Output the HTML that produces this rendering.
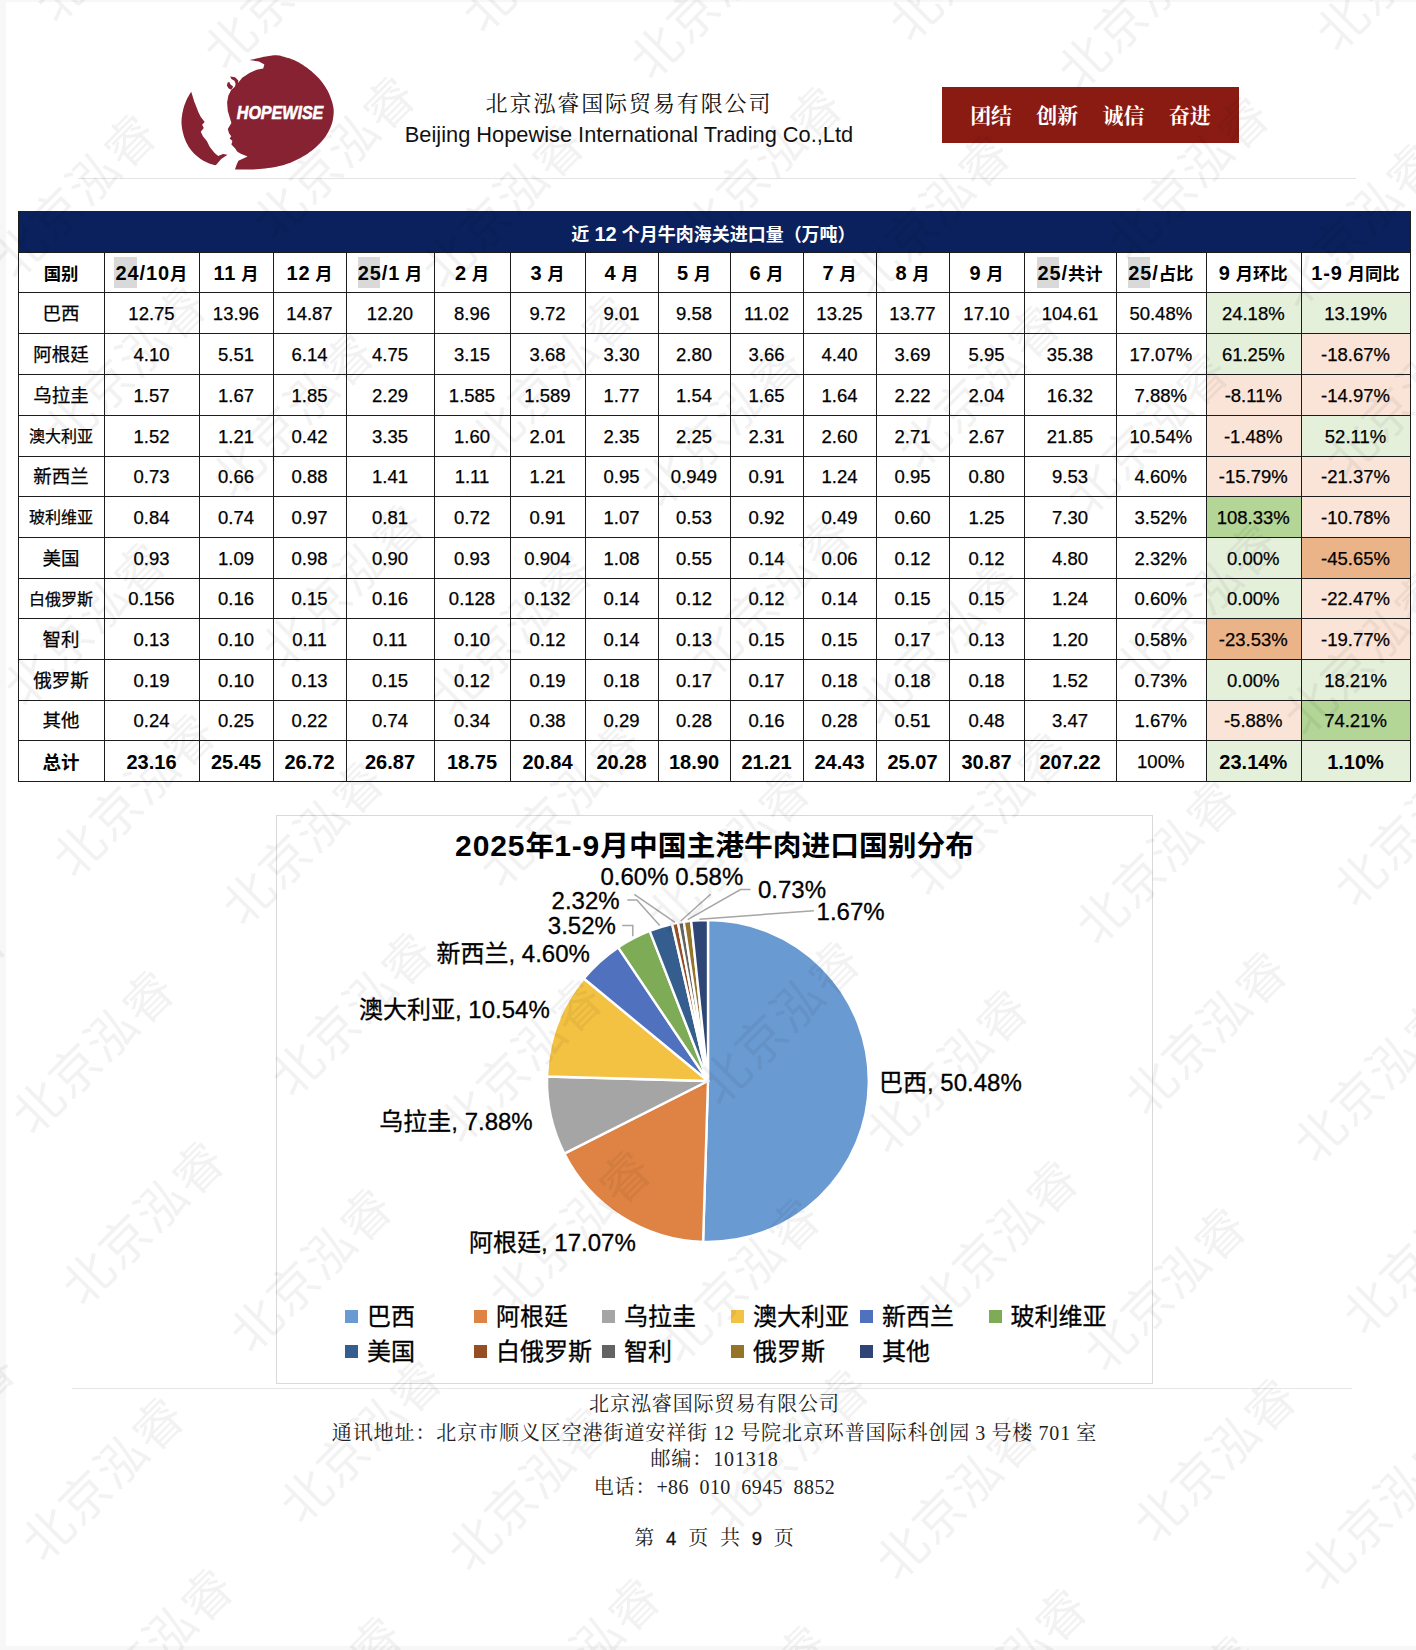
<!DOCTYPE html>
<html lang="zh-CN"><head><meta charset="utf-8"><title>北京泓睿国际贸易有限公司</title>
<style>
*{box-sizing:border-box;margin:0;padding:0}
html,body{width:1416px;height:1650px;overflow:hidden;background:#fff}
body{position:relative;font-family:"Liberation Sans","Noto Sans CJK SC",sans-serif;color:#000}
.abs{position:absolute}
.edge{position:absolute;background:#f7f7f7}
.cn{font-family:"Liberation Serif","Noto Serif CJK SC",serif}
.hl{position:absolute;height:1px;background:#e4e4e4}
#tbl{position:absolute;left:0;top:0;width:1416px;height:800px}
.c{-webkit-text-stroke:.25px #000;position:absolute;display:flex;align-items:center;justify-content:center;font-size:18.5px;white-space:nowrap;line-height:1}
.c.b{font-weight:bold;-webkit-text-stroke:0}
.c.b .n{font-size:20px}
.c.h{font-size:17.33px}
.c.h .n{letter-spacing:.9px}
#ctitle .n{font-size:30px;letter-spacing:.9px}
.c.s{font-size:16px}
.vl,.hz{position:absolute;background:#1c1c1c}
.lg{position:absolute;font-size:24px;line-height:1;white-space:nowrap;color:#000;-webkit-text-stroke:.3px #000}
.lg i{position:absolute;left:-21.6px;top:4.7px;width:13px;height:13px;display:block}
.pl{position:absolute;font-size:24px;line-height:1;white-space:nowrap;color:#000;-webkit-text-stroke:.3px #000}
.ft{position:absolute;left:6.5px;width:1416px;text-align:center;font-size:20px;line-height:1;letter-spacing:.9px;color:#222;white-space:nowrap}
.pn{font-family:"Liberation Sans",sans-serif;font-size:18.5px;color:#111;-webkit-text-stroke:.35px #111}
</style></head>
<body>
<div class="edge" style="left:0;top:0;width:6px;height:1650px"></div><div class="edge" style="left:0;top:0;width:1416px;height:2px"></div><div class="edge" style="left:0;top:1646px;width:1416px;height:4px"></div>
<svg class="abs" style="left:0;top:0" width="420" height="200" viewBox="0 0 420 200"><path d="M259.0 58.0 L259.9 57.8 L261.2 57.5 L262.6 57.1 L264.2 56.8 L265.9 56.4 L267.4 56.2 L269.0 55.9 L270.6 55.7 L272.2 55.4 L273.9 55.3 L275.5 55.2 L277.0 55.2 L278.5 55.4 L279.9 55.6 L281.2 56.0 L282.6 56.4 L284.0 56.8 L285.4 57.2 L286.9 57.7 L288.5 58.1 L290.0 58.6 L291.6 59.2 L293.3 59.8 L295.0 60.6 L296.9 61.5 L298.9 62.6 L300.9 63.7 L303.0 65.0 L305.0 66.4 L307.1 67.8 L309.1 69.4 L311.2 71.1 L313.3 72.9 L315.3 74.8 L317.3 76.7 L319.1 78.6 L320.7 80.5 L322.3 82.5 L323.7 84.5 L325.1 86.6 L326.3 88.6 L327.5 90.6 L328.5 92.6 L329.5 94.7 L330.3 96.8 L331.0 98.8 L331.7 100.8 L332.3 102.6 L332.7 104.3 L333.1 105.9 L333.4 107.4 L333.6 108.9 L333.7 110.5 L333.7 112.2 L333.6 114.1 L333.4 116.1 L333.1 118.1 L332.8 120.1 L332.3 122.2 L331.7 124.2 L330.9 126.2 L330.1 128.3 L329.1 130.3 L328.1 132.3 L326.9 134.3 L325.7 136.2 L324.3 138.1 L322.9 140.0 L321.3 141.8 L319.7 143.6 L317.9 145.3 L316.1 147.0 L314.1 148.7 L312.0 150.4 L309.8 152.1 L307.6 153.7 L305.2 155.2 L302.9 156.6 L300.4 158.0 L297.8 159.3 L295.2 160.6 L292.6 161.8 L289.9 162.9 L287.2 163.8 L284.6 164.7 L282.0 165.5 L279.3 166.1 L276.6 166.7 L273.9 167.2 L271.0 167.7 L268.1 168.1 L265.2 168.5 L262.1 168.8 L259.1 169.1 L256.1 169.3 L253.0 169.5 L249.8 169.6 L246.4 169.6 L242.9 169.6 L239.7 169.6 L237.0 169.5 L235.0 169.5 L236.5 165.0 L238.4 160.8 L247.6 156.4 L240.8 153.8 L237.4 151.8 L235.0 148.2 L231.4 144.6 L232.4 141.0 L229.7 138.6 L231.2 136.2 L229.0 133.2 L227.8 129.0 L229.3 126.4 L231.4 123.0 L229.6 117.0 L227.8 111.0 L227.1 102.6 L228.4 95.4 L231.2 90.0 L235.0 86.4 L238.6 82.2 L242.2 77.7 L249.4 72.9 L256.6 69.8 L263.2 68.4 L264.4 64.6 L259.0 61.6 L249.4 60.0 Z" fill="#862231"/><path d="M191.2 91.8 L190.7 92.6 L190.1 93.6 L189.3 94.8 L188.5 96.2 L187.7 97.6 L187.0 99.0 L186.3 100.5 L185.7 102.0 L185.1 103.6 L184.4 105.2 L183.9 106.9 L183.4 108.6 L183.0 110.4 L182.6 112.2 L182.2 114.0 L182.0 115.9 L181.7 117.7 L181.6 119.4 L181.5 121.1 L181.5 122.7 L181.6 124.2 L181.7 125.8 L181.9 127.4 L182.2 129.0 L182.5 130.8 L182.9 132.6 L183.4 134.4 L183.9 136.3 L184.5 138.1 L185.2 139.8 L185.9 141.5 L186.7 143.2 L187.6 144.8 L188.5 146.4 L189.5 147.9 L190.6 149.4 L191.8 150.9 L193.1 152.4 L194.5 153.9 L196.0 155.3 L197.5 156.6 L199.0 157.8 L200.6 159.0 L202.2 160.0 L203.9 160.9 L205.5 161.8 L207.1 162.6 L208.6 163.2 L210.0 163.8 L211.5 164.3 L212.8 164.6 L214.0 164.9 L215.1 165.1 L215.8 165.3 L221.2 159.0 L227.5 154.8 L223.0 154.0 L218.2 156.0 L214.6 153.0 L209.8 147.0 L206.8 141.0 L202.9 136.2 L200.8 131.7 L203.8 128.1 L202.1 124.8 L204.7 122.1 L200.8 117.0 L198.4 112.2 L196.6 107.4 L194.2 101.4 L192.4 95.4 Z" fill="#862231"/><path d="M230.2 76.5 L235.0 77.2 L238.4 80.4 L237.7 85.2 L235.0 87.0 L235.6 83.4 L234.4 80.7 L231.4 78.9 Z" fill="#862231"/><path d="M227.6 82.5 L229.3 82.0 L230.5 84.4 L233.2 86.4 L231.2 89.7 L228.7 88.5 L226.9 85.8 Z" fill="#862231"/><text x="236.8" y="118.8" font-family="'Liberation Sans',sans-serif" font-weight="bold" font-style="italic" font-size="18.4" fill="#fff" stroke="#fff" stroke-width="0.6" textLength="86.5" lengthAdjust="spacingAndGlyphs">HOPEWISE</text></svg>
<div class="abs cn" id="cname" style="left:380px;width:498px;top:93px;text-align:center;font-size:22px;line-height:1;letter-spacing:1.9px;color:#111;white-space:nowrap">北京泓睿国际贸易有限公司</div>
<div class="abs" id="ename" style="left:380px;width:498px;top:124px;text-align:center;font-size:21.8px;line-height:1;color:#111;white-space:nowrap">Beijing Hopewise International Trading Co.,Ltd</div>
<div class="abs" style="left:942px;top:87px;width:297px;height:56px;background:#8a1b13"></div><div class="abs cn" id="motto" style="left:942px;top:105.6px;width:297px;text-align:center;font-size:21px;line-height:1;font-weight:bold;color:#fff;white-space:nowrap;word-spacing:19px">团结 创新 诚信 奋进</div>
<div class="hl" style="left:78px;top:177.5px;width:1278px"></div>
<div id="tbl">
<div class="abs" style="left:18px;top:211px;width:1392.5px;height:41px;background:#0a215d"></div>
<div class="c b" id="ttitle" style="left:17.5px;top:213px;width:1392px;height:41px;color:#fff;-webkit-text-stroke:0;font-size:18px"><span>近 <span class="n">12</span> 个月牛肉海关进口量（万吨）</span></div>
<div class="abs" style="left:114.3px;top:257.2px;width:22.3px;height:30.6px;background:#d9d9d9"></div>
<div class="abs" style="left:358.3px;top:257.2px;width:22.2px;height:30.6px;background:#d9d9d9"></div>
<div class="abs" style="left:1036.5px;top:257.2px;width:22.5px;height:30.6px;background:#d9d9d9"></div>
<div class="abs" style="left:1127.5px;top:257.2px;width:22.5px;height:30.6px;background:#d9d9d9"></div>
<div class="abs" style="left:1205.5px;top:292px;width:95.5px;height:41px;background:#e5f0db"></div>
<div class="abs" style="left:1301px;top:292px;width:109px;height:41px;background:#e5f0db"></div>
<div class="abs" style="left:1205.5px;top:333px;width:95.5px;height:41px;background:#e5f0db"></div>
<div class="abs" style="left:1301px;top:333px;width:109px;height:41px;background:#fae4d7"></div>
<div class="abs" style="left:1205.5px;top:374px;width:95.5px;height:41px;background:#fae4d7"></div>
<div class="abs" style="left:1301px;top:374px;width:109px;height:41px;background:#fae4d7"></div>
<div class="abs" style="left:1205.5px;top:415px;width:95.5px;height:41px;background:#fae4d7"></div>
<div class="abs" style="left:1301px;top:415px;width:109px;height:41px;background:#e5f0db"></div>
<div class="abs" style="left:1205.5px;top:456px;width:95.5px;height:40px;background:#fae4d7"></div>
<div class="abs" style="left:1301px;top:456px;width:109px;height:40px;background:#fae4d7"></div>
<div class="abs" style="left:1205.5px;top:496px;width:95.5px;height:41px;background:#b3d596"></div>
<div class="abs" style="left:1301px;top:496px;width:109px;height:41px;background:#fae4d7"></div>
<div class="abs" style="left:1205.5px;top:537px;width:95.5px;height:41px;background:#e5f0db"></div>
<div class="abs" style="left:1301px;top:537px;width:109px;height:41px;background:#ebb488"></div>
<div class="abs" style="left:1205.5px;top:578px;width:95.5px;height:40px;background:#e5f0db"></div>
<div class="abs" style="left:1301px;top:578px;width:109px;height:40px;background:#fae4d7"></div>
<div class="abs" style="left:1205.5px;top:618px;width:95.5px;height:41px;background:#ebb488"></div>
<div class="abs" style="left:1301px;top:618px;width:109px;height:41px;background:#fae4d7"></div>
<div class="abs" style="left:1205.5px;top:659px;width:95.5px;height:41px;background:#e5f0db"></div>
<div class="abs" style="left:1301px;top:659px;width:109px;height:41px;background:#e5f0db"></div>
<div class="abs" style="left:1205.5px;top:700px;width:95.5px;height:40px;background:#fae4d7"></div>
<div class="abs" style="left:1301px;top:700px;width:109px;height:40px;background:#b3d596"></div>
<div class="abs" style="left:1205.5px;top:740px;width:95.5px;height:41px;background:#e5f0db"></div>
<div class="abs" style="left:1301px;top:740px;width:109px;height:41px;background:#e5f0db"></div>
<div class="c b h" id="h0" style="left:18px;top:253px;width:86px;height:40px"><span><span class="n">&#8203;</span>国别</span></div>
<div class="c b h" id="h1" style="left:104px;top:253px;width:95px;height:40px"><span><span class="n">24/10</span>月</span></div>
<div class="c b h" id="h2" style="left:199px;top:253px;width:74px;height:40px"><span><span class="n">11</span> 月</span></div>
<div class="c b h" id="h3" style="left:273px;top:253px;width:73px;height:40px"><span><span class="n">12</span> 月</span></div>
<div class="c b h" id="h4" style="left:346px;top:253px;width:88px;height:40px"><span><span class="n">25/1</span> 月</span></div>
<div class="c b h" id="h5" style="left:434px;top:253px;width:76px;height:40px"><span><span class="n">2</span> 月</span></div>
<div class="c b h" id="h6" style="left:510px;top:253px;width:75px;height:40px"><span><span class="n">3</span> 月</span></div>
<div class="c b h" id="h7" style="left:585px;top:253px;width:73px;height:40px"><span><span class="n">4</span> 月</span></div>
<div class="c b h" id="h8" style="left:658px;top:253px;width:72px;height:40px"><span><span class="n">5</span> 月</span></div>
<div class="c b h" id="h9" style="left:730px;top:253px;width:73px;height:40px"><span><span class="n">6</span> 月</span></div>
<div class="c b h" id="h10" style="left:803px;top:253px;width:73px;height:40px"><span><span class="n">7</span> 月</span></div>
<div class="c b h" id="h11" style="left:876px;top:253px;width:73px;height:40px"><span><span class="n">8</span> 月</span></div>
<div class="c b h" id="h12" style="left:949px;top:253px;width:75px;height:40px"><span><span class="n">9</span> 月</span></div>
<div class="c b h" id="h13" style="left:1024px;top:253px;width:92px;height:40px"><span><span class="n">25/</span>共计</span></div>
<div class="c b h" id="h14" style="left:1116px;top:253px;width:89.5px;height:40px"><span><span class="n">25/</span>占比</span></div>
<div class="c b h" id="h15" style="left:1205.5px;top:253px;width:95.5px;height:40px"><span><span class="n">9</span> 月环比</span></div>
<div class="c b h" id="h16" style="left:1301px;top:253px;width:109px;height:40px"><span><span class="n">1-9</span> 月同比</span></div>
<div class="c" id="d0_0" style="left:18px;top:293.5px;width:86px;height:41px"><span>巴西</span></div>
<div class="c" id="d0_1" style="left:104px;top:293.5px;width:95px;height:41px"><span>12.75</span></div>
<div class="c" id="d0_2" style="left:199px;top:293.5px;width:74px;height:41px"><span>13.96</span></div>
<div class="c" id="d0_3" style="left:273px;top:293.5px;width:73px;height:41px"><span>14.87</span></div>
<div class="c" id="d0_4" style="left:346px;top:293.5px;width:88px;height:41px"><span>12.20</span></div>
<div class="c" id="d0_5" style="left:434px;top:293.5px;width:76px;height:41px"><span>8.96</span></div>
<div class="c" id="d0_6" style="left:510px;top:293.5px;width:75px;height:41px"><span>9.72</span></div>
<div class="c" id="d0_7" style="left:585px;top:293.5px;width:73px;height:41px"><span>9.01</span></div>
<div class="c" id="d0_8" style="left:658px;top:293.5px;width:72px;height:41px"><span>9.58</span></div>
<div class="c" id="d0_9" style="left:730px;top:293.5px;width:73px;height:41px"><span>11.02</span></div>
<div class="c" id="d0_10" style="left:803px;top:293.5px;width:73px;height:41px"><span>13.25</span></div>
<div class="c" id="d0_11" style="left:876px;top:293.5px;width:73px;height:41px"><span>13.77</span></div>
<div class="c" id="d0_12" style="left:949px;top:293.5px;width:75px;height:41px"><span>17.10</span></div>
<div class="c" id="d0_13" style="left:1024px;top:293.5px;width:92px;height:41px"><span>104.61</span></div>
<div class="c" id="d0_14" style="left:1116px;top:293.5px;width:89.5px;height:41px"><span>50.48%</span></div>
<div class="c" id="d0_15" style="left:1205.5px;top:293.5px;width:95.5px;height:41px"><span>24.18%</span></div>
<div class="c" id="d0_16" style="left:1301px;top:293.5px;width:109px;height:41px"><span>13.19%</span></div>
<div class="c" id="d1_0" style="left:18px;top:334.5px;width:86px;height:41px"><span>阿根廷</span></div>
<div class="c" id="d1_1" style="left:104px;top:334.5px;width:95px;height:41px"><span>4.10</span></div>
<div class="c" id="d1_2" style="left:199px;top:334.5px;width:74px;height:41px"><span>5.51</span></div>
<div class="c" id="d1_3" style="left:273px;top:334.5px;width:73px;height:41px"><span>6.14</span></div>
<div class="c" id="d1_4" style="left:346px;top:334.5px;width:88px;height:41px"><span>4.75</span></div>
<div class="c" id="d1_5" style="left:434px;top:334.5px;width:76px;height:41px"><span>3.15</span></div>
<div class="c" id="d1_6" style="left:510px;top:334.5px;width:75px;height:41px"><span>3.68</span></div>
<div class="c" id="d1_7" style="left:585px;top:334.5px;width:73px;height:41px"><span>3.30</span></div>
<div class="c" id="d1_8" style="left:658px;top:334.5px;width:72px;height:41px"><span>2.80</span></div>
<div class="c" id="d1_9" style="left:730px;top:334.5px;width:73px;height:41px"><span>3.66</span></div>
<div class="c" id="d1_10" style="left:803px;top:334.5px;width:73px;height:41px"><span>4.40</span></div>
<div class="c" id="d1_11" style="left:876px;top:334.5px;width:73px;height:41px"><span>3.69</span></div>
<div class="c" id="d1_12" style="left:949px;top:334.5px;width:75px;height:41px"><span>5.95</span></div>
<div class="c" id="d1_13" style="left:1024px;top:334.5px;width:92px;height:41px"><span>35.38</span></div>
<div class="c" id="d1_14" style="left:1116px;top:334.5px;width:89.5px;height:41px"><span>17.07%</span></div>
<div class="c" id="d1_15" style="left:1205.5px;top:334.5px;width:95.5px;height:41px"><span>61.25%</span></div>
<div class="c" id="d1_16" style="left:1301px;top:334.5px;width:109px;height:41px"><span>-18.67%</span></div>
<div class="c" id="d2_0" style="left:18px;top:375.5px;width:86px;height:41px"><span>乌拉圭</span></div>
<div class="c" id="d2_1" style="left:104px;top:375.5px;width:95px;height:41px"><span>1.57</span></div>
<div class="c" id="d2_2" style="left:199px;top:375.5px;width:74px;height:41px"><span>1.67</span></div>
<div class="c" id="d2_3" style="left:273px;top:375.5px;width:73px;height:41px"><span>1.85</span></div>
<div class="c" id="d2_4" style="left:346px;top:375.5px;width:88px;height:41px"><span>2.29</span></div>
<div class="c" id="d2_5" style="left:434px;top:375.5px;width:76px;height:41px"><span>1.585</span></div>
<div class="c" id="d2_6" style="left:510px;top:375.5px;width:75px;height:41px"><span>1.589</span></div>
<div class="c" id="d2_7" style="left:585px;top:375.5px;width:73px;height:41px"><span>1.77</span></div>
<div class="c" id="d2_8" style="left:658px;top:375.5px;width:72px;height:41px"><span>1.54</span></div>
<div class="c" id="d2_9" style="left:730px;top:375.5px;width:73px;height:41px"><span>1.65</span></div>
<div class="c" id="d2_10" style="left:803px;top:375.5px;width:73px;height:41px"><span>1.64</span></div>
<div class="c" id="d2_11" style="left:876px;top:375.5px;width:73px;height:41px"><span>2.22</span></div>
<div class="c" id="d2_12" style="left:949px;top:375.5px;width:75px;height:41px"><span>2.04</span></div>
<div class="c" id="d2_13" style="left:1024px;top:375.5px;width:92px;height:41px"><span>16.32</span></div>
<div class="c" id="d2_14" style="left:1116px;top:375.5px;width:89.5px;height:41px"><span>7.88%</span></div>
<div class="c" id="d2_15" style="left:1205.5px;top:375.5px;width:95.5px;height:41px"><span>-8.11%</span></div>
<div class="c" id="d2_16" style="left:1301px;top:375.5px;width:109px;height:41px"><span>-14.97%</span></div>
<div class="c s" id="d3_0" style="left:18px;top:416.5px;width:86px;height:41px"><span>澳大利亚</span></div>
<div class="c" id="d3_1" style="left:104px;top:416.5px;width:95px;height:41px"><span>1.52</span></div>
<div class="c" id="d3_2" style="left:199px;top:416.5px;width:74px;height:41px"><span>1.21</span></div>
<div class="c" id="d3_3" style="left:273px;top:416.5px;width:73px;height:41px"><span>0.42</span></div>
<div class="c" id="d3_4" style="left:346px;top:416.5px;width:88px;height:41px"><span>3.35</span></div>
<div class="c" id="d3_5" style="left:434px;top:416.5px;width:76px;height:41px"><span>1.60</span></div>
<div class="c" id="d3_6" style="left:510px;top:416.5px;width:75px;height:41px"><span>2.01</span></div>
<div class="c" id="d3_7" style="left:585px;top:416.5px;width:73px;height:41px"><span>2.35</span></div>
<div class="c" id="d3_8" style="left:658px;top:416.5px;width:72px;height:41px"><span>2.25</span></div>
<div class="c" id="d3_9" style="left:730px;top:416.5px;width:73px;height:41px"><span>2.31</span></div>
<div class="c" id="d3_10" style="left:803px;top:416.5px;width:73px;height:41px"><span>2.60</span></div>
<div class="c" id="d3_11" style="left:876px;top:416.5px;width:73px;height:41px"><span>2.71</span></div>
<div class="c" id="d3_12" style="left:949px;top:416.5px;width:75px;height:41px"><span>2.67</span></div>
<div class="c" id="d3_13" style="left:1024px;top:416.5px;width:92px;height:41px"><span>21.85</span></div>
<div class="c" id="d3_14" style="left:1116px;top:416.5px;width:89.5px;height:41px"><span>10.54%</span></div>
<div class="c" id="d3_15" style="left:1205.5px;top:416.5px;width:95.5px;height:41px"><span>-1.48%</span></div>
<div class="c" id="d3_16" style="left:1301px;top:416.5px;width:109px;height:41px"><span>52.11%</span></div>
<div class="c" id="d4_0" style="left:18px;top:457.5px;width:86px;height:40px"><span>新西兰</span></div>
<div class="c" id="d4_1" style="left:104px;top:457.5px;width:95px;height:40px"><span>0.73</span></div>
<div class="c" id="d4_2" style="left:199px;top:457.5px;width:74px;height:40px"><span>0.66</span></div>
<div class="c" id="d4_3" style="left:273px;top:457.5px;width:73px;height:40px"><span>0.88</span></div>
<div class="c" id="d4_4" style="left:346px;top:457.5px;width:88px;height:40px"><span>1.41</span></div>
<div class="c" id="d4_5" style="left:434px;top:457.5px;width:76px;height:40px"><span>1.11</span></div>
<div class="c" id="d4_6" style="left:510px;top:457.5px;width:75px;height:40px"><span>1.21</span></div>
<div class="c" id="d4_7" style="left:585px;top:457.5px;width:73px;height:40px"><span>0.95</span></div>
<div class="c" id="d4_8" style="left:658px;top:457.5px;width:72px;height:40px"><span>0.949</span></div>
<div class="c" id="d4_9" style="left:730px;top:457.5px;width:73px;height:40px"><span>0.91</span></div>
<div class="c" id="d4_10" style="left:803px;top:457.5px;width:73px;height:40px"><span>1.24</span></div>
<div class="c" id="d4_11" style="left:876px;top:457.5px;width:73px;height:40px"><span>0.95</span></div>
<div class="c" id="d4_12" style="left:949px;top:457.5px;width:75px;height:40px"><span>0.80</span></div>
<div class="c" id="d4_13" style="left:1024px;top:457.5px;width:92px;height:40px"><span>9.53</span></div>
<div class="c" id="d4_14" style="left:1116px;top:457.5px;width:89.5px;height:40px"><span>4.60%</span></div>
<div class="c" id="d4_15" style="left:1205.5px;top:457.5px;width:95.5px;height:40px"><span>-15.79%</span></div>
<div class="c" id="d4_16" style="left:1301px;top:457.5px;width:109px;height:40px"><span>-21.37%</span></div>
<div class="c s" id="d5_0" style="left:18px;top:497.5px;width:86px;height:41px"><span>玻利维亚</span></div>
<div class="c" id="d5_1" style="left:104px;top:497.5px;width:95px;height:41px"><span>0.84</span></div>
<div class="c" id="d5_2" style="left:199px;top:497.5px;width:74px;height:41px"><span>0.74</span></div>
<div class="c" id="d5_3" style="left:273px;top:497.5px;width:73px;height:41px"><span>0.97</span></div>
<div class="c" id="d5_4" style="left:346px;top:497.5px;width:88px;height:41px"><span>0.81</span></div>
<div class="c" id="d5_5" style="left:434px;top:497.5px;width:76px;height:41px"><span>0.72</span></div>
<div class="c" id="d5_6" style="left:510px;top:497.5px;width:75px;height:41px"><span>0.91</span></div>
<div class="c" id="d5_7" style="left:585px;top:497.5px;width:73px;height:41px"><span>1.07</span></div>
<div class="c" id="d5_8" style="left:658px;top:497.5px;width:72px;height:41px"><span>0.53</span></div>
<div class="c" id="d5_9" style="left:730px;top:497.5px;width:73px;height:41px"><span>0.92</span></div>
<div class="c" id="d5_10" style="left:803px;top:497.5px;width:73px;height:41px"><span>0.49</span></div>
<div class="c" id="d5_11" style="left:876px;top:497.5px;width:73px;height:41px"><span>0.60</span></div>
<div class="c" id="d5_12" style="left:949px;top:497.5px;width:75px;height:41px"><span>1.25</span></div>
<div class="c" id="d5_13" style="left:1024px;top:497.5px;width:92px;height:41px"><span>7.30</span></div>
<div class="c" id="d5_14" style="left:1116px;top:497.5px;width:89.5px;height:41px"><span>3.52%</span></div>
<div class="c" id="d5_15" style="left:1205.5px;top:497.5px;width:95.5px;height:41px"><span>108.33%</span></div>
<div class="c" id="d5_16" style="left:1301px;top:497.5px;width:109px;height:41px"><span>-10.78%</span></div>
<div class="c" id="d6_0" style="left:18px;top:538.5px;width:86px;height:41px"><span>美国</span></div>
<div class="c" id="d6_1" style="left:104px;top:538.5px;width:95px;height:41px"><span>0.93</span></div>
<div class="c" id="d6_2" style="left:199px;top:538.5px;width:74px;height:41px"><span>1.09</span></div>
<div class="c" id="d6_3" style="left:273px;top:538.5px;width:73px;height:41px"><span>0.98</span></div>
<div class="c" id="d6_4" style="left:346px;top:538.5px;width:88px;height:41px"><span>0.90</span></div>
<div class="c" id="d6_5" style="left:434px;top:538.5px;width:76px;height:41px"><span>0.93</span></div>
<div class="c" id="d6_6" style="left:510px;top:538.5px;width:75px;height:41px"><span>0.904</span></div>
<div class="c" id="d6_7" style="left:585px;top:538.5px;width:73px;height:41px"><span>1.08</span></div>
<div class="c" id="d6_8" style="left:658px;top:538.5px;width:72px;height:41px"><span>0.55</span></div>
<div class="c" id="d6_9" style="left:730px;top:538.5px;width:73px;height:41px"><span>0.14</span></div>
<div class="c" id="d6_10" style="left:803px;top:538.5px;width:73px;height:41px"><span>0.06</span></div>
<div class="c" id="d6_11" style="left:876px;top:538.5px;width:73px;height:41px"><span>0.12</span></div>
<div class="c" id="d6_12" style="left:949px;top:538.5px;width:75px;height:41px"><span>0.12</span></div>
<div class="c" id="d6_13" style="left:1024px;top:538.5px;width:92px;height:41px"><span>4.80</span></div>
<div class="c" id="d6_14" style="left:1116px;top:538.5px;width:89.5px;height:41px"><span>2.32%</span></div>
<div class="c" id="d6_15" style="left:1205.5px;top:538.5px;width:95.5px;height:41px"><span>0.00%</span></div>
<div class="c" id="d6_16" style="left:1301px;top:538.5px;width:109px;height:41px"><span>-45.65%</span></div>
<div class="c s" id="d7_0" style="left:18px;top:579.5px;width:86px;height:40px"><span>白俄罗斯</span></div>
<div class="c" id="d7_1" style="left:104px;top:579.5px;width:95px;height:40px"><span>0.156</span></div>
<div class="c" id="d7_2" style="left:199px;top:579.5px;width:74px;height:40px"><span>0.16</span></div>
<div class="c" id="d7_3" style="left:273px;top:579.5px;width:73px;height:40px"><span>0.15</span></div>
<div class="c" id="d7_4" style="left:346px;top:579.5px;width:88px;height:40px"><span>0.16</span></div>
<div class="c" id="d7_5" style="left:434px;top:579.5px;width:76px;height:40px"><span>0.128</span></div>
<div class="c" id="d7_6" style="left:510px;top:579.5px;width:75px;height:40px"><span>0.132</span></div>
<div class="c" id="d7_7" style="left:585px;top:579.5px;width:73px;height:40px"><span>0.14</span></div>
<div class="c" id="d7_8" style="left:658px;top:579.5px;width:72px;height:40px"><span>0.12</span></div>
<div class="c" id="d7_9" style="left:730px;top:579.5px;width:73px;height:40px"><span>0.12</span></div>
<div class="c" id="d7_10" style="left:803px;top:579.5px;width:73px;height:40px"><span>0.14</span></div>
<div class="c" id="d7_11" style="left:876px;top:579.5px;width:73px;height:40px"><span>0.15</span></div>
<div class="c" id="d7_12" style="left:949px;top:579.5px;width:75px;height:40px"><span>0.15</span></div>
<div class="c" id="d7_13" style="left:1024px;top:579.5px;width:92px;height:40px"><span>1.24</span></div>
<div class="c" id="d7_14" style="left:1116px;top:579.5px;width:89.5px;height:40px"><span>0.60%</span></div>
<div class="c" id="d7_15" style="left:1205.5px;top:579.5px;width:95.5px;height:40px"><span>0.00%</span></div>
<div class="c" id="d7_16" style="left:1301px;top:579.5px;width:109px;height:40px"><span>-22.47%</span></div>
<div class="c" id="d8_0" style="left:18px;top:619.5px;width:86px;height:41px"><span>智利</span></div>
<div class="c" id="d8_1" style="left:104px;top:619.5px;width:95px;height:41px"><span>0.13</span></div>
<div class="c" id="d8_2" style="left:199px;top:619.5px;width:74px;height:41px"><span>0.10</span></div>
<div class="c" id="d8_3" style="left:273px;top:619.5px;width:73px;height:41px"><span>0.11</span></div>
<div class="c" id="d8_4" style="left:346px;top:619.5px;width:88px;height:41px"><span>0.11</span></div>
<div class="c" id="d8_5" style="left:434px;top:619.5px;width:76px;height:41px"><span>0.10</span></div>
<div class="c" id="d8_6" style="left:510px;top:619.5px;width:75px;height:41px"><span>0.12</span></div>
<div class="c" id="d8_7" style="left:585px;top:619.5px;width:73px;height:41px"><span>0.14</span></div>
<div class="c" id="d8_8" style="left:658px;top:619.5px;width:72px;height:41px"><span>0.13</span></div>
<div class="c" id="d8_9" style="left:730px;top:619.5px;width:73px;height:41px"><span>0.15</span></div>
<div class="c" id="d8_10" style="left:803px;top:619.5px;width:73px;height:41px"><span>0.15</span></div>
<div class="c" id="d8_11" style="left:876px;top:619.5px;width:73px;height:41px"><span>0.17</span></div>
<div class="c" id="d8_12" style="left:949px;top:619.5px;width:75px;height:41px"><span>0.13</span></div>
<div class="c" id="d8_13" style="left:1024px;top:619.5px;width:92px;height:41px"><span>1.20</span></div>
<div class="c" id="d8_14" style="left:1116px;top:619.5px;width:89.5px;height:41px"><span>0.58%</span></div>
<div class="c" id="d8_15" style="left:1205.5px;top:619.5px;width:95.5px;height:41px"><span>-23.53%</span></div>
<div class="c" id="d8_16" style="left:1301px;top:619.5px;width:109px;height:41px"><span>-19.77%</span></div>
<div class="c" id="d9_0" style="left:18px;top:660.5px;width:86px;height:41px"><span>俄罗斯</span></div>
<div class="c" id="d9_1" style="left:104px;top:660.5px;width:95px;height:41px"><span>0.19</span></div>
<div class="c" id="d9_2" style="left:199px;top:660.5px;width:74px;height:41px"><span>0.10</span></div>
<div class="c" id="d9_3" style="left:273px;top:660.5px;width:73px;height:41px"><span>0.13</span></div>
<div class="c" id="d9_4" style="left:346px;top:660.5px;width:88px;height:41px"><span>0.15</span></div>
<div class="c" id="d9_5" style="left:434px;top:660.5px;width:76px;height:41px"><span>0.12</span></div>
<div class="c" id="d9_6" style="left:510px;top:660.5px;width:75px;height:41px"><span>0.19</span></div>
<div class="c" id="d9_7" style="left:585px;top:660.5px;width:73px;height:41px"><span>0.18</span></div>
<div class="c" id="d9_8" style="left:658px;top:660.5px;width:72px;height:41px"><span>0.17</span></div>
<div class="c" id="d9_9" style="left:730px;top:660.5px;width:73px;height:41px"><span>0.17</span></div>
<div class="c" id="d9_10" style="left:803px;top:660.5px;width:73px;height:41px"><span>0.18</span></div>
<div class="c" id="d9_11" style="left:876px;top:660.5px;width:73px;height:41px"><span>0.18</span></div>
<div class="c" id="d9_12" style="left:949px;top:660.5px;width:75px;height:41px"><span>0.18</span></div>
<div class="c" id="d9_13" style="left:1024px;top:660.5px;width:92px;height:41px"><span>1.52</span></div>
<div class="c" id="d9_14" style="left:1116px;top:660.5px;width:89.5px;height:41px"><span>0.73%</span></div>
<div class="c" id="d9_15" style="left:1205.5px;top:660.5px;width:95.5px;height:41px"><span>0.00%</span></div>
<div class="c" id="d9_16" style="left:1301px;top:660.5px;width:109px;height:41px"><span>18.21%</span></div>
<div class="c" id="d10_0" style="left:18px;top:701.5px;width:86px;height:40px"><span>其他</span></div>
<div class="c" id="d10_1" style="left:104px;top:701.5px;width:95px;height:40px"><span>0.24</span></div>
<div class="c" id="d10_2" style="left:199px;top:701.5px;width:74px;height:40px"><span>0.25</span></div>
<div class="c" id="d10_3" style="left:273px;top:701.5px;width:73px;height:40px"><span>0.22</span></div>
<div class="c" id="d10_4" style="left:346px;top:701.5px;width:88px;height:40px"><span>0.74</span></div>
<div class="c" id="d10_5" style="left:434px;top:701.5px;width:76px;height:40px"><span>0.34</span></div>
<div class="c" id="d10_6" style="left:510px;top:701.5px;width:75px;height:40px"><span>0.38</span></div>
<div class="c" id="d10_7" style="left:585px;top:701.5px;width:73px;height:40px"><span>0.29</span></div>
<div class="c" id="d10_8" style="left:658px;top:701.5px;width:72px;height:40px"><span>0.28</span></div>
<div class="c" id="d10_9" style="left:730px;top:701.5px;width:73px;height:40px"><span>0.16</span></div>
<div class="c" id="d10_10" style="left:803px;top:701.5px;width:73px;height:40px"><span>0.28</span></div>
<div class="c" id="d10_11" style="left:876px;top:701.5px;width:73px;height:40px"><span>0.51</span></div>
<div class="c" id="d10_12" style="left:949px;top:701.5px;width:75px;height:40px"><span>0.48</span></div>
<div class="c" id="d10_13" style="left:1024px;top:701.5px;width:92px;height:40px"><span>3.47</span></div>
<div class="c" id="d10_14" style="left:1116px;top:701.5px;width:89.5px;height:40px"><span>1.67%</span></div>
<div class="c" id="d10_15" style="left:1205.5px;top:701.5px;width:95.5px;height:40px"><span>-5.88%</span></div>
<div class="c" id="d10_16" style="left:1301px;top:701.5px;width:109px;height:40px"><span>74.21%</span></div>
<div class="c b" id="d11_0" style="left:18px;top:741.5px;width:86px;height:41px"><span><span class="n">&#8203;</span>总计</span></div>
<div class="c b" id="d11_1" style="left:104px;top:741.5px;width:95px;height:41px"><span><span class="n">23.16</span></span></div>
<div class="c b" id="d11_2" style="left:199px;top:741.5px;width:74px;height:41px"><span><span class="n">25.45</span></span></div>
<div class="c b" id="d11_3" style="left:273px;top:741.5px;width:73px;height:41px"><span><span class="n">26.72</span></span></div>
<div class="c b" id="d11_4" style="left:346px;top:741.5px;width:88px;height:41px"><span><span class="n">26.87</span></span></div>
<div class="c b" id="d11_5" style="left:434px;top:741.5px;width:76px;height:41px"><span><span class="n">18.75</span></span></div>
<div class="c b" id="d11_6" style="left:510px;top:741.5px;width:75px;height:41px"><span><span class="n">20.84</span></span></div>
<div class="c b" id="d11_7" style="left:585px;top:741.5px;width:73px;height:41px"><span><span class="n">20.28</span></span></div>
<div class="c b" id="d11_8" style="left:658px;top:741.5px;width:72px;height:41px"><span><span class="n">18.90</span></span></div>
<div class="c b" id="d11_9" style="left:730px;top:741.5px;width:73px;height:41px"><span><span class="n">21.21</span></span></div>
<div class="c b" id="d11_10" style="left:803px;top:741.5px;width:73px;height:41px"><span><span class="n">24.43</span></span></div>
<div class="c b" id="d11_11" style="left:876px;top:741.5px;width:73px;height:41px"><span><span class="n">25.07</span></span></div>
<div class="c b" id="d11_12" style="left:949px;top:741.5px;width:75px;height:41px"><span><span class="n">30.87</span></span></div>
<div class="c b" id="d11_13" style="left:1024px;top:741.5px;width:92px;height:41px"><span><span class="n">207.22</span></span></div>
<div class="c" id="d11_14" style="left:1116px;top:741.5px;width:89.5px;height:41px"><span>100%</span></div>
<div class="c b" id="d11_15" style="left:1205.5px;top:741.5px;width:95.5px;height:41px"><span><span class="n">23.14%</span></span></div>
<div class="c b" id="d11_16" style="left:1301px;top:741.5px;width:109px;height:41px"><span><span class="n">1.10%</span></span></div>
<div class="vl" style="left:18px;top:211px;width:1px;height:571px"></div>
<div class="vl" style="left:104px;top:252px;width:1px;height:530px"></div>
<div class="vl" style="left:199px;top:252px;width:1px;height:530px"></div>
<div class="vl" style="left:273px;top:252px;width:1px;height:530px"></div>
<div class="vl" style="left:346px;top:252px;width:1px;height:530px"></div>
<div class="vl" style="left:434px;top:252px;width:1px;height:530px"></div>
<div class="vl" style="left:510px;top:252px;width:1px;height:530px"></div>
<div class="vl" style="left:585px;top:252px;width:1px;height:530px"></div>
<div class="vl" style="left:658px;top:252px;width:1px;height:530px"></div>
<div class="vl" style="left:730px;top:252px;width:1px;height:530px"></div>
<div class="vl" style="left:803px;top:252px;width:1px;height:530px"></div>
<div class="vl" style="left:876px;top:252px;width:1px;height:530px"></div>
<div class="vl" style="left:949px;top:252px;width:1px;height:530px"></div>
<div class="vl" style="left:1024px;top:252px;width:1px;height:530px"></div>
<div class="vl" style="left:1116px;top:252px;width:1px;height:530px"></div>
<div class="vl" style="left:1205.5px;top:252px;width:1px;height:530px"></div>
<div class="vl" style="left:1301px;top:252px;width:1px;height:530px"></div>
<div class="vl" style="left:1410px;top:211px;width:1px;height:571px"></div>
<div class="hz" style="left:18px;top:252px;width:1393px;height:1px"></div>
<div class="hz" style="left:18px;top:292px;width:1393px;height:1px"></div>
<div class="hz" style="left:18px;top:333px;width:1393px;height:1px"></div>
<div class="hz" style="left:18px;top:374px;width:1393px;height:1px"></div>
<div class="hz" style="left:18px;top:415px;width:1393px;height:1px"></div>
<div class="hz" style="left:18px;top:456px;width:1393px;height:1px"></div>
<div class="hz" style="left:18px;top:496px;width:1393px;height:1px"></div>
<div class="hz" style="left:18px;top:537px;width:1393px;height:1px"></div>
<div class="hz" style="left:18px;top:578px;width:1393px;height:1px"></div>
<div class="hz" style="left:18px;top:618px;width:1393px;height:1px"></div>
<div class="hz" style="left:18px;top:659px;width:1393px;height:1px"></div>
<div class="hz" style="left:18px;top:700px;width:1393px;height:1px"></div>
<div class="hz" style="left:18px;top:740px;width:1393px;height:1px"></div>
<div class="hz" style="left:18px;top:781px;width:1393px;height:1px"></div>
</div>
<div class="abs" style="left:276px;top:815px;width:877px;height:569px;border:1px solid #d9d9d9"></div>
<svg class="abs" style="left:0;top:800px" width="1416" height="600" viewBox="0 800 1416 600">
<path d="M708.00 1081.00 L708.00 920.00 A161.00 161.00 0 1 1 703.09 1241.93 Z" fill="#6a9ad2" stroke="#fff" stroke-width="2.4" stroke-linejoin="round"/>
<path d="M708.00 1081.00 L703.09 1241.93 A161.00 161.00 0 0 1 564.29 1153.58 Z" fill="#de8344" stroke="#fff" stroke-width="2.4" stroke-linejoin="round"/>
<path d="M708.00 1081.00 L564.29 1153.58 A161.00 161.00 0 0 1 547.06 1076.57 Z" fill="#a5a5a5" stroke="#fff" stroke-width="2.4" stroke-linejoin="round"/>
<path d="M708.00 1081.00 L547.06 1076.57 A161.00 161.00 0 0 1 583.81 978.54 Z" fill="#f3c243" stroke="#fff" stroke-width="2.4" stroke-linejoin="round"/>
<path d="M708.00 1081.00 L583.81 978.54 A161.00 161.00 0 0 1 618.17 947.39 Z" fill="#4f71be" stroke="#fff" stroke-width="2.4" stroke-linejoin="round"/>
<path d="M708.00 1081.00 L618.17 947.39 A161.00 161.00 0 0 1 649.67 930.94 Z" fill="#7eab55" stroke="#fff" stroke-width="2.4" stroke-linejoin="round"/>
<path d="M708.00 1081.00 L649.67 930.94 A161.00 161.00 0 0 1 672.09 924.06 Z" fill="#355d8d" stroke="#fff" stroke-width="2.4" stroke-linejoin="round"/>
<path d="M708.00 1081.00 L672.09 924.06 A161.00 161.00 0 0 1 678.03 922.81 Z" fill="#954f23" stroke="#fff" stroke-width="2.4" stroke-linejoin="round"/>
<path d="M708.00 1081.00 L678.03 922.81 A161.00 161.00 0 0 1 683.81 921.83 Z" fill="#636363" stroke="#fff" stroke-width="2.4" stroke-linejoin="round"/>
<path d="M708.00 1081.00 L683.81 921.83 A161.00 161.00 0 0 1 691.14 920.89 Z" fill="#947428" stroke="#fff" stroke-width="2.4" stroke-linejoin="round"/>
<path d="M708.00 1081.00 L691.14 920.89 A161.00 161.00 0 0 1 708.00 920.00 Z" fill="#2f4575" stroke="#fff" stroke-width="2.4" stroke-linejoin="round"/>
<path d="M622.2 925.5 H632.8 V936.3" fill="none" stroke="#a6a6a6" stroke-width="1.5"/>
<path d="M627.3 900 H636.9 L659.7 925.5" fill="none" stroke="#a6a6a6" stroke-width="1.5"/>
<path d="M634.3 894.3 L675 922.3" fill="none" stroke="#a6a6a6" stroke-width="1.5"/>
<path d="M710.6 894.3 L680.7 921" fill="none" stroke="#a6a6a6" stroke-width="1.5"/>
<path d="M750.6 889.5 H740.5 L687.7 919.7" fill="none" stroke="#a6a6a6" stroke-width="1.5"/>
<path d="M699.4 919.2 L813.8 910.7" fill="none" stroke="#a6a6a6" stroke-width="1.5"/>
</svg>
<div class="abs" id="ctitle" style="left:276px;top:831px;width:877px;text-align:center;font-size:28.75px;font-weight:bold;line-height:1;white-space:nowrap"><span class="n">2025</span>年<span class="n">1-9</span>月中国主港牛肉进口国别分布</div>
<div class="pl" id="pl0" style="left:600.5px;top:865px">0.60% 0.58%</div>
<div class="pl" id="pl1" style="left:758px;top:878px">0.73%</div>
<div class="pl" id="pl2" style="left:816.6px;top:900px">1.67%</div>
<div class="pl" id="pl3" style="left:551.6px;top:888.8px">2.32%</div>
<div class="pl" id="pl4" style="left:547.8px;top:913.6px">3.52%</div>
<div class="pl" id="pl5" style="left:436.5px;top:941.5px">新西兰, 4.60%</div>
<div class="pl" id="pl6" style="left:359px;top:997.5px">澳大利亚, 10.54%</div>
<div class="pl" id="pl7" style="left:879px;top:1071px">巴西, 50.48%</div>
<div class="pl" id="pl8" style="left:379.3px;top:1110.4px">乌拉圭, 7.88%</div>
<div class="pl" id="pl9" style="left:469px;top:1230.5px">阿根廷, 17.07%</div>
<div class="lg" id="lg0" style="left:367px;top:1305px"><i style="background:#6a9ad2"></i>巴西</div>
<div class="lg" id="lg1" style="left:496px;top:1305px"><i style="background:#de8344"></i>阿根廷</div>
<div class="lg" id="lg2" style="left:624px;top:1305px"><i style="background:#a5a5a5"></i>乌拉圭</div>
<div class="lg" id="lg3" style="left:753px;top:1305px"><i style="background:#f3c243"></i>澳大利亚</div>
<div class="lg" id="lg4" style="left:882px;top:1305px"><i style="background:#4f71be"></i>新西兰</div>
<div class="lg" id="lg5" style="left:1010.5px;top:1305px"><i style="background:#7eab55"></i>玻利维亚</div>
<div class="lg" id="lg6" style="left:367px;top:1340.4px"><i style="background:#355d8d"></i>美国</div>
<div class="lg" id="lg7" style="left:496px;top:1340.4px"><i style="background:#954f23"></i>白俄罗斯</div>
<div class="lg" id="lg8" style="left:624px;top:1340.4px"><i style="background:#636363"></i>智利</div>
<div class="lg" id="lg9" style="left:753px;top:1340.4px"><i style="background:#947428"></i>俄罗斯</div>
<div class="lg" id="lg10" style="left:882px;top:1340.4px"><i style="background:#2f4575"></i>其他</div>
<div class="hl" style="left:72px;top:1388px;width:1280px;background:#e6e6e6"></div>
<div class="ft cn" id="f0" style="top:1394px">北京泓睿国际贸易有限公司</div>
<div class="ft cn" id="f1" style="top:1423px;word-spacing:-.7px">通讯地址：北京市顺义区空港街道安祥街 12 号院北京环普国际科创园 3 号楼 701 室</div>
<div class="ft cn" id="f2" style="top:1449px">邮编：101318</div>
<div class="ft cn" id="f3" style="top:1477px">电话：<span style="letter-spacing:.45px;word-spacing:5px">+86 010 6945 8852</span></div>
<div class="ft cn" id="f4" style="top:1528px;word-spacing:5px">第 <span class="pn">4</span> 页 共 <span class="pn">9</span> 页</div>
<svg class="abs" style="left:0;top:0;pointer-events:none" width="1416" height="1650" viewBox="0 0 1416 1650" font-family="'Noto Sans CJK SC',sans-serif" font-weight="400" font-size="50" letter-spacing="1.6" fill="#000" fill-opacity="0.05" text-anchor="middle">
<text transform="translate(-142 -22) rotate(-45)" y="17.5">北京泓睿</text>
<text transform="translate(-132 405) rotate(-45)" y="17.5">北京泓睿</text>
<text transform="translate(-124 833) rotate(-45)" y="17.5">北京泓睿</text>
<text transform="translate(-114 1261) rotate(-45)" y="17.5">北京泓睿</text>
<text transform="translate(-106 1688) rotate(-45)" y="17.5">北京泓睿</text>
<text transform="translate(-92 149) rotate(-45)" y="17.5">北京泓睿</text>
<text transform="translate(-83 576) rotate(-45)" y="17.5">北京泓睿</text>
<text transform="translate(-74 1004) rotate(-45)" y="17.5">北京泓睿</text>
<text transform="translate(-65 1432) rotate(-45)" y="17.5">北京泓睿</text>
<text transform="translate(76 196) rotate(-45)" y="17.5">北京泓睿</text>
<text transform="translate(86 624) rotate(-45)" y="17.5">北京泓睿</text>
<text transform="translate(94 1052) rotate(-45)" y="17.5">北京泓睿</text>
<text transform="translate(104 1479) rotate(-45)" y="17.5">北京泓睿</text>
<text transform="translate(117 -60) rotate(-45)" y="17.5">北京泓睿</text>
<text transform="translate(126 368) rotate(-45)" y="17.5">北京泓睿</text>
<text transform="translate(135 795) rotate(-45)" y="17.5">北京泓睿</text>
<text transform="translate(144 1223) rotate(-45)" y="17.5">北京泓睿</text>
<text transform="translate(153 1650) rotate(-45)" y="17.5">北京泓睿</text>
<text transform="translate(286 -13) rotate(-45)" y="17.5">北京泓睿</text>
<text transform="translate(294 415) rotate(-45)" y="17.5">北京泓睿</text>
<text transform="translate(304 843) rotate(-45)" y="17.5">北京泓睿</text>
<text transform="translate(312 1270) rotate(-45)" y="17.5">北京泓睿</text>
<text transform="translate(322 1698) rotate(-45)" y="17.5">北京泓睿</text>
<text transform="translate(335 158) rotate(-45)" y="17.5">北京泓睿</text>
<text transform="translate(344 586) rotate(-45)" y="17.5">北京泓睿</text>
<text transform="translate(353 1014) rotate(-45)" y="17.5">北京泓睿</text>
<text transform="translate(362 1441) rotate(-45)" y="17.5">北京泓睿</text>
<text transform="translate(504 206) rotate(-45)" y="17.5">北京泓睿</text>
<text transform="translate(512 634) rotate(-45)" y="17.5">北京泓睿</text>
<text transform="translate(522 1061) rotate(-45)" y="17.5">北京泓睿</text>
<text transform="translate(530 1489) rotate(-45)" y="17.5">北京泓睿</text>
<text transform="translate(544 -50) rotate(-45)" y="17.5">北京泓睿</text>
<text transform="translate(553 377) rotate(-45)" y="17.5">北京泓睿</text>
<text transform="translate(562 805) rotate(-45)" y="17.5">北京泓睿</text>
<text transform="translate(571 1232) rotate(-45)" y="17.5">北京泓睿</text>
<text transform="translate(580 1660) rotate(-45)" y="17.5">北京泓睿</text>
<text transform="translate(712 -3) rotate(-45)" y="17.5">北京泓睿</text>
<text transform="translate(722 425) rotate(-45)" y="17.5">北京泓睿</text>
<text transform="translate(730 852) rotate(-45)" y="17.5">北京泓睿</text>
<text transform="translate(740 1280) rotate(-45)" y="17.5">北京泓睿</text>
<text transform="translate(748 1707) rotate(-45)" y="17.5">北京泓睿</text>
<text transform="translate(762 168) rotate(-45)" y="17.5">北京泓睿</text>
<text transform="translate(771 596) rotate(-45)" y="17.5">北京泓睿</text>
<text transform="translate(780 1023) rotate(-45)" y="17.5">北京泓睿</text>
<text transform="translate(789 1451) rotate(-45)" y="17.5">北京泓睿</text>
<text transform="translate(930 216) rotate(-45)" y="17.5">北京泓睿</text>
<text transform="translate(940 643) rotate(-45)" y="17.5">北京泓睿</text>
<text transform="translate(948 1071) rotate(-45)" y="17.5">北京泓睿</text>
<text transform="translate(958 1498) rotate(-45)" y="17.5">北京泓睿</text>
<text transform="translate(971 -41) rotate(-45)" y="17.5">北京泓睿</text>
<text transform="translate(980 387) rotate(-45)" y="17.5">北京泓睿</text>
<text transform="translate(989 814) rotate(-45)" y="17.5">北京泓睿</text>
<text transform="translate(998 1242) rotate(-45)" y="17.5">北京泓睿</text>
<text transform="translate(1007 1670) rotate(-45)" y="17.5">北京泓睿</text>
<text transform="translate(1140 7) rotate(-45)" y="17.5">北京泓睿</text>
<text transform="translate(1148 434) rotate(-45)" y="17.5">北京泓睿</text>
<text transform="translate(1158 862) rotate(-45)" y="17.5">北京泓睿</text>
<text transform="translate(1166 1289) rotate(-45)" y="17.5">北京泓睿</text>
<text transform="translate(1176 1717) rotate(-45)" y="17.5">北京泓睿</text>
<text transform="translate(1189 178) rotate(-45)" y="17.5">北京泓睿</text>
<text transform="translate(1198 605) rotate(-45)" y="17.5">北京泓睿</text>
<text transform="translate(1207 1033) rotate(-45)" y="17.5">北京泓睿</text>
<text transform="translate(1216 1460) rotate(-45)" y="17.5">北京泓睿</text>
<text transform="translate(1358 225) rotate(-45)" y="17.5">北京泓睿</text>
<text transform="translate(1366 653) rotate(-45)" y="17.5">北京泓睿</text>
<text transform="translate(1376 1080) rotate(-45)" y="17.5">北京泓睿</text>
<text transform="translate(1384 1508) rotate(-45)" y="17.5">北京泓睿</text>
<text transform="translate(1398 -31) rotate(-45)" y="17.5">北京泓睿</text>
<text transform="translate(1407 396) rotate(-45)" y="17.5">北京泓睿</text>
<text transform="translate(1416 824) rotate(-45)" y="17.5">北京泓睿</text>
<text transform="translate(1425 1252) rotate(-45)" y="17.5">北京泓睿</text>
<text transform="translate(1434 1679) rotate(-45)" y="17.5">北京泓睿</text>
</svg>
</body></html>
